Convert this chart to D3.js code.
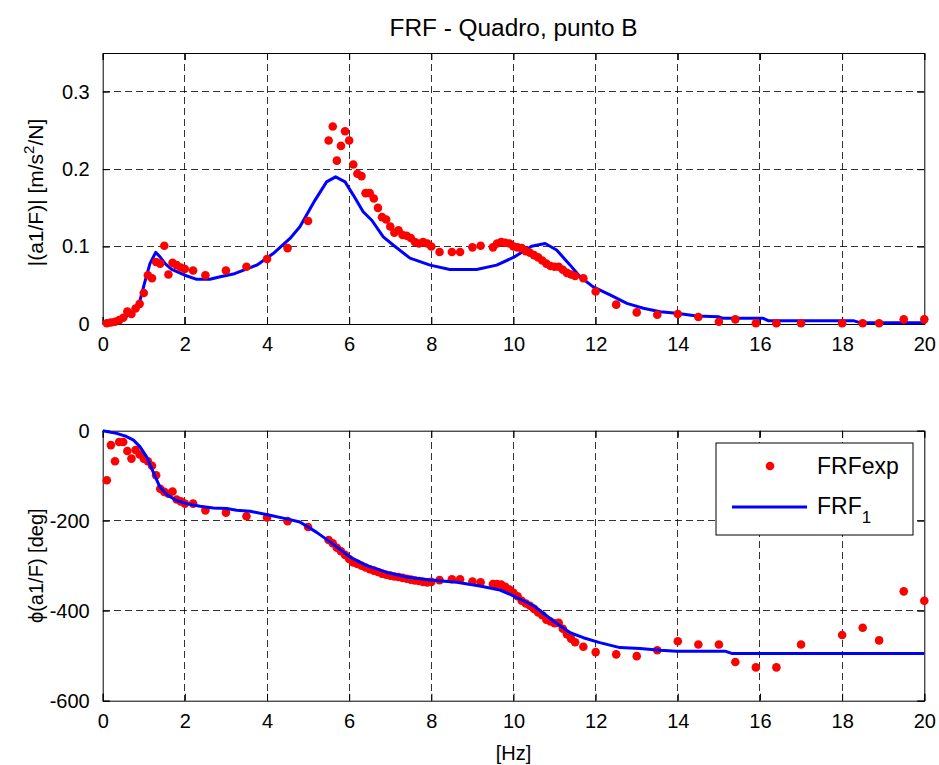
<!DOCTYPE html>
<html>
<head>
<meta charset="utf-8">
<script src="https://cdn.jsdelivr.net/npm/d3@7"></script>
<style>
  html, body { margin: 0; padding: 0; background: #ffffff; }
  svg { display: block; font-family: "Liberation Sans", Arial, Helvetica, sans-serif; }
</style>
</head>
<body>
<svg id="chart" width="939" height="765"></svg>
<script>
// Measured frequencies [Hz] of the experimental FRF
const fExp = [0.1,0.2,0.3,0.4,0.5,0.6,0.7,0.8,0.9,1.0,1.1,1.2,1.3,1.4,1.5,1.6,1.7,1.8,1.9,2.0,2.2,2.5,3.0,3.5,4.0,4.5,5.0,
  5.5,5.6,5.7,5.8,5.9,6.0,6.1,6.2,6.3,6.4,6.5,6.6,6.7,6.8,6.9,7.0,7.1,7.2,7.3,7.4,7.5,7.6,7.7,7.8,7.9,8.0,8.2,8.5,8.7,
  9.0,9.2,9.5,9.6,9.7,9.8,9.9,10.0,10.1,10.2,10.3,10.4,10.5,10.6,10.7,10.8,10.9,11.0,11.1,11.2,11.3,11.4,11.5,11.7,
  12.0,12.5,13.0,13.5,14.0,14.5,15.0,15.4,15.9,16.4,17.0,18.0,18.5,18.9,19.5,20.0];

// |a1/F| measured [m/s^2/N]
const magExp = [0.001,0.002,0.003,0.005,0.008,0.016,0.013,0.020,0.026,0.040,0.063,0.059,0.080,0.078,0.101,0.064,0.079,0.076,0.073,0.071,0.069,0.063,0.069,0.074,0.084,0.098,0.133,
  0.237,0.255,0.211,0.230,0.249,0.237,0.206,0.194,0.191,0.169,0.169,0.162,0.150,0.138,0.135,0.126,0.118,0.121,0.115,0.114,0.111,0.106,0.104,0.106,0.104,0.100,0.093,0.093,0.093,
  0.099,0.101,0.099,0.104,0.106,0.105,0.104,0.100,0.099,0.098,0.094,0.092,0.089,0.086,0.082,0.078,0.075,0.074,0.074,0.070,0.066,0.064,0.062,0.059,
  0.042,0.025,0.015,0.012,0.013,0.009,0.003,0.006,0.001,0.001,0.001,0.001,0.001,0.001,0.006,0.006];

// phase of a1/F measured [deg]
const phExp = [-110,-32,-68,-25,-25,-45,-62,-43,-53,-62,-68,-78,-99,-129,-136,-140,-135,-153,-157,-162,-162,-177,-182,-190,-193,-201,-214,
  -243,-250,-260,-268,-276,-285,-293,-296,-300,-304,-308,-311,-314,-318,-320,-322,-324,-325,-327,-329,-331,-333,-334,-336,-337,-336,-332,-330,-330,
  -335,-337,-341,-341,-342,-347,-353,-360,-368,-378,-384,-389,-396,-404,-410,-420,-424,-428,-427,-440,-452,-462,-470,-480,
  -492,-497,-501,-488,-468,-475,-475,-514,-526,-526,-475,-454,-438,-466,-357,-378];

// Identified model FRF_1: magnitude
const fModelMag = [0.1,0.26,0.5,0.75,0.91,1.03,1.15,1.29,1.39,1.52,1.68,2.0,2.29,2.61,2.86,3.18,3.75,4.15,4.56,4.8,5.17,5.45,5.67,5.9,6.1,6.34,6.55,6.83,
  7.07,7.48,7.97,8.45,9.1,9.59,10.0,10.44,10.77,11.05,11.38,11.62,11.94,12.35,12.76,13.16,13.57,13.97,14.46,14.99,15.1,16.08,16.2,18.27,18.43,20.0];
const magModel = [0.0,0.001,0.006,0.018,0.031,0.055,0.078,0.0925,0.087,0.078,0.0705,0.063,0.0577,0.0577,0.061,0.0645,0.076,0.091,0.1105,0.1255,0.160,0.1835,0.190,0.1835,0.1665,0.145,0.134,0.1125,
  0.102,0.085,0.076,0.0705,0.0705,0.076,0.086,0.1005,0.104,0.0955,0.076,0.061,0.048,0.0375,0.0267,0.0203,0.0159,0.0138,0.0103,0.0094,0.0073,0.0073,0.0043,0.0043,0.0017,0.0017];

// Identified model FRF_1: phase
const fModelPh = [0.0,0.34,0.58,0.75,0.91,1.07,1.23,1.39,1.56,1.8,2.04,2.37,2.69,3.02,3.26,3.59,4.07,4.48,4.8,5.21,5.61,6.02,6.43,6.92,
  7.4,7.97,8.62,9.18,9.67,10.0,10.49,10.97,11.38,11.7,12.1,12.59,13.08,13.57,13.97,15.15,15.31,20.0];
const phModel = [0,-6,-13,-21,-36,-58,-92,-125,-142,-155,-162,-168,-172,-173,-177,-179,-188,-196,-203,-226,-252,-281,-300,-315,
  -325,-332,-337,-345,-354,-367,-389,-423,-449,-460,-471,-482,-484,-488,-490,-490,-495,-495];

const xTicks = [0,2,4,6,8,10,12,14,16,18,20];
const magTicks = [0,0.1,0.2,0.3];
const magTickLabels = ["0","0.1","0.2","0.3"];
const phTicks = [-600,-400,-200,0];
const phTickLabels = ["-600","-400","-200","0"];

const titleText = "FRF - Quadro, punto B";
const xLabelText = "[Hz]";
const legendNames = ["FRFexp", "FRF"];

const svg = d3.select("#chart");
const left = 102.7, right = 924.3;
const tickFont = 20;
const expColor = "#ff0000", modelColor = "#0000ff";

const x = d3.scaleLinear().domain([0, 20]).range([left, right]);
const yMag = d3.scaleLinear().domain([0, 0.35]).range([324, 53]);
const yPh = d3.scaleLinear().domain([-600, 0]).range([700.7, 430.7]);

function drawPanel(y, yTicks, yLabels) {
  const [y0, y1] = y.range();        // bottom, top
  const g = svg.append("g");
  g.append("rect").attr("x", left).attr("y", y1).attr("width", right - left).attr("height", y0 - y1)
    .attr("fill", "#ffffff");

  // dashed grid
  const grid = g.append("g").attr("stroke", "#000").attr("stroke-width", 0.8)
    .attr("stroke-dasharray", "7,4").attr("shape-rendering", "crispEdges");
  xTicks.filter(t => t > 0 && t < 20).forEach(t => {
    grid.append("line").attr("x1", x(t)).attr("x2", x(t)).attr("y1", y1).attr("y2", y0);
  });
  yTicks.filter(t => y(t) < y0 - 1 && y(t) > y1 + 1).forEach(t => {
    grid.append("line").attr("x1", left).attr("x2", right).attr("y1", y(t)).attr("y2", y(t));
  });

  // axes on all four sides with inward ticks
  const tl = 7;
  const axB = d3.axisBottom(x).tickValues(xTicks).tickSize(-tl).tickPadding(tl + 6).tickFormat(d3.format("d"));
  const axT = d3.axisTop(x).tickValues(xTicks).tickSize(-tl).tickFormat("");
  const axL = d3.axisLeft(y).tickValues(yTicks).tickSize(-tl).tickPadding(tl + 6)
    .tickFormat((d, i) => yLabels[i]);
  const axR = d3.axisRight(y).tickValues(yTicks).tickSize(-tl).tickFormat("");
  [[axB, `translate(0,${y0})`], [axT, `translate(0,${y1})`], [axL, `translate(${left},0)`], [axR, `translate(${right},0)`]]
    .forEach(([ax, tr]) => {
      const a = g.append("g").attr("transform", tr).call(ax);
      a.select(".domain").attr("stroke", "#000").attr("stroke-width", 1);
      a.selectAll(".tick line").attr("stroke", "#000").attr("stroke-width", 1);
      a.selectAll(".tick text").attr("font-size", tickFont).attr("fill", "#000")
        .attr("font-family", "'Liberation Sans', Arial, sans-serif");
    });
  return g;
}

const gMag = drawPanel(yMag, magTicks, magTickLabels);
const gPh = drawPanel(yPh, phTicks, phTickLabels);

// Magnitude panel data
gMag.append("path")
  .datum(fModelMag.map((f, i) => [f, magModel[i]]))
  .attr("fill", "none").attr("stroke", modelColor).attr("stroke-width", 3).attr("stroke-linejoin", "round")
  .attr("d", d3.line().x(d => x(d[0])).y(d => yMag(d[1])));
gMag.append("g").selectAll("circle").data(fExp.map((f, i) => [f, magExp[i]])).join("circle")
  .attr("cx", d => x(d[0])).attr("cy", d => yMag(d[1])).attr("r", 4.3).attr("fill", expColor);

// Phase panel data
gPh.append("g").selectAll("circle").data(fExp.map((f, i) => [f, phExp[i]])).join("circle")
  .attr("cx", d => x(d[0])).attr("cy", d => yPh(d[1])).attr("r", 4.3).attr("fill", expColor);
gPh.append("path")
  .datum(fModelPh.map((f, i) => [f, phModel[i]]))
  .attr("fill", "none").attr("stroke", modelColor).attr("stroke-width", 3).attr("stroke-linejoin", "round")
  .attr("d", d3.line().x(d => x(d[0])).y(d => yPh(d[1])));

// Title and axis labels
const cx = (left + right) / 2;
svg.append("text").attr("x", cx).attr("y", 36).attr("text-anchor", "middle")
  .attr("font-size", 23).attr("textLength", 248).attr("lengthAdjust", "spacingAndGlyphs").text(titleText);
svg.append("text").attr("x", cx).attr("y", 760).attr("text-anchor", "middle")
  .attr("font-size", 20).text(xLabelText);

const yl1 = svg.append("text").attr("transform", `translate(43,${(324 + 53) / 2 + 4}) rotate(-90)`)
  .attr("text-anchor", "middle").attr("font-size", 21);
yl1.append("tspan").text("|(a1/F)| [m/s");
yl1.append("tspan").attr("dy", -9).attr("font-size", 15).text("2");
yl1.append("tspan").attr("dy", 9).text("/N]");

svg.append("text").attr("transform", `translate(43,${(700.7 + 430.7) / 2}) rotate(-90)`)
  .attr("text-anchor", "middle").attr("font-size", 20).text("\u03D5(a1/F) [deg]");

// Legend
const lg = svg.append("g");
lg.append("rect").attr("x", 716).attr("y", 443).attr("width", 197).attr("height", 92)
  .attr("fill", "#fff").attr("stroke", "#000").attr("stroke-width", 1);
lg.append("circle").attr("cx", 770).attr("cy", 466).attr("r", 4.3).attr("fill", expColor);
lg.append("text").attr("x", 817).attr("y", 474).attr("font-size", 23).text(legendNames[0]);
lg.append("line").attr("x1", 732).attr("x2", 807).attr("y1", 507).attr("y2", 507)
  .attr("stroke", modelColor).attr("stroke-width", 3);
const lt = lg.append("text").attr("x", 817).attr("y", 514).attr("font-size", 23);
lt.append("tspan").text(legendNames[1]);
lt.append("tspan").attr("dy", 9).attr("font-size", 17).text("1");
</script>
</body>
</html>
